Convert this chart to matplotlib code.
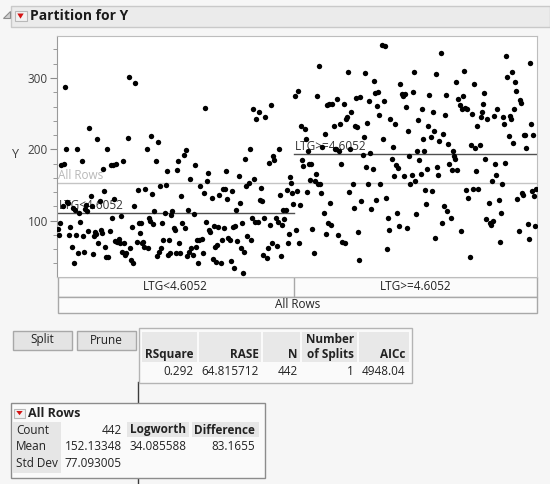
import numpy as np
import matplotlib.pyplot as plt
from matplotlib.patches import Rectangle, Polygon
from matplotlib.ticker import MultipleLocator, FixedLocator

plt.rcParams["font.family"] = ["Open Sans", "DejaVu Sans"]

# Y values, left to right within each leaf
left_leaf = [
    88, 80, 97, 178, 120, 180, 288, 201, 126, 124, 80, 91, 63, 117, 41, 115, 80, 200, 54, 111,
    98, 183, 78, 56, 116, 122, 113, 85, 230, 135, 120, 53, 78, 84, 81, 214, 68, 128, 87, 82,
    173, 141, 63, 49, 200, 49, 86, 178, 104, 178, 130, 72, 179, 70, 74, 68, 106, 56, 183, 68,
    52, 55, 216, 302, 61, 45, 91, 40, 120, 293, 70, 143, 97, 83, 97, 68, 70, 63, 145, 200,
    61, 103, 99, 219, 137, 95, 113, 184, 50, 210, 56, 148, 61, 96, 73, 110, 150, 169, 52, 73,
    54, 108, 113, 89, 87, 54, 171, 183, 68,
    55, 134, 96, 192, 89, 199, 50, 115, 56, 159, 61, 52, 109, 178, 63, 73, 41, 73, 148, 74,
    55, 139, 258, 98, 155, 167, 87, 84, 132, 46, 92, 63, 42, 66, 91, 136, 41, 73, 144, 89,
    145, 169, 130, 75, 73, 44, 141, 91, 33, 92, 115, 72, 162, 125, 61, 97, 27, 56, 187, 149,
    78, 153, 200, 73, 103, 256, 159, 98, 243, 98, 253, 129, 146, 128, 52, 103, 245, 47, 61, 181,
    94, 262, 68, 191, 185, 103, 64, 98, 200, 136, 50, 94, 115, 102, 115, 143, 68, 81, 161, 153,
    138, 123,
]
right_leaf = [
    275, 87, 141, 282, 69, 122, 232, 185, 176, 228, 215, 140, 197, 179, 157, 179, 88, 54, 155, 165,
    275, 152, 317, 152, 139, 203, 111, 221, 81, 262, 96, 264, 124, 94, 264, 233, 201, 200, 271, 80,
    197, 235, 180, 70, 264, 68, 242, 245, 309, 140, 200, 253, 152, 117, 233, 272, 231, 84, 45, 274,
    127, 192, 217, 307, 175, 237, 151, 268, 195, 116, 172, 296, 279, 129, 261, 281, 248, 151, 346, 214,
    268, 345, 132, 60, 103, 87, 243, 186, 203, 163, 235, 178, 110, 174, 92, 292, 278, 275, 162, 278,
    259, 90, 225, 191, 151, 164, 281, 309, 156, 109, 198, 241,
    185, 166, 257, 214, 197, 143, 123, 173, 233, 276, 217, 142, 253, 225, 75, 306, 175, 164, 212, 335,
    96, 221, 120, 248, 276, 113, 208, 179, 103, 171, 198, 190, 187, 294, 171, 270, 262, 86, 257, 275,
    310, 258, 143, 257, 132, 49, 206, 249, 145, 292, 202, 169, 232, 145, 206, 245, 253, 264, 279, 186,
    102, 242, 125, 96, 94, 156, 100, 246, 180, 164, 257, 129, 70, 110, 151, 245, 235, 181, 331, 302,
    219, 247, 242, 309, 209, 257, 295, 282, 130, 86, 269, 265, 138, 136, 220, 220, 202, 95, 74, 321,
    236, 141, 220, 134, 92, 144,
]
leaf_names = ["LTG<4.6052", "LTG>=4.6052"]
leaf_means = [110.0, 193.2]
all_mean = 152.13348

summary_cols = ["RSquare", "RASE", "N", "Number\nof Splits", "AICc"]
summary_vals = ["0.292", "64.815712", "442", "1", "4948.04"]
node_labels = ["Count", "Mean", "Std Dev"]
node_vals = ["442", "152.13348", "77.093005"]
split_cols = ["Logworth", "Difference"]
split_vals = ["34.085588", "83.1655"]

W, H = 550, 484
BG = "#f6f6f6"
TXT = "#222222"


def box(x0, y0, x1, y1):
    return [x0 / W, 1 - y1 / H, (x1 - x0) / W, (y1 - y0) / H]


fig = plt.figure(figsize=(W / 100, H / 100), dpi=100, facecolor=BG)

# overlay axes in pixel coordinates for the report furniture
ui = fig.add_axes([0, 0, 1, 1], zorder=0)
ui.set_xlim(0, W)
ui.set_ylim(H, 0)
ui.axis("off")


def rect(x0, y0, x1, y1, fc, ec="none", lw=1.0, z=1):
    ui.add_patch(Rectangle((x0, y0), x1 - x0, y1 - y0, fc=fc, ec=ec, lw=lw, zorder=z))


def red_button(x0, y0, w=11, h=9):
    rect(x0, y0, x0 + w, y0 + h, "#f2f2f2", "#b8b8b8", 0.8, 3)
    cx = x0 + w / 2
    ui.add_patch(Polygon([(cx - 3.2, y0 + 2.5), (cx + 3.2, y0 + 2.5), (cx, y0 + h - 2.3)],
                         closed=True, fc="#d41414", ec="none", zorder=4))


# header
rect(10.5, 5.5, 549.5, 26.5, "#ebebeb", "#c9c9c9", 1.0)
ui.add_patch(Polygon([(9.5, 11), (9.5, 18), (2.5, 18)], closed=True, fc="#d0d0d0",
                     ec="#8c8c8c", lw=0.8, zorder=2))
red_button(14.5, 11, 12, 10)
ui.text(30.5, 16.5, "Partition for Y", fontsize=10, fontweight="bold", color="#1a1a1a",
        va="center", ha="left")

# main partition plot
ax = fig.add_axes(box(57.5, 36, 537, 276.7), zorder=2)
ax.set_facecolor("white")
split = (294 - 57.5) / (537 - 57.5)
n_l, n_r = len(left_leaf), len(right_leaf)
x_l = (np.arange(n_l) + 0.5) / n_l * split
x_r = split + (np.arange(n_r) + 0.5) / n_r * (1 - split)

ax.axhline(all_mean, color="#c4c4c4", lw=1.0, zorder=1)
ax.plot([0, split], [leaf_means[0]] * 2, color="#505050", lw=1.0, zorder=1)
ax.plot([split, 1], [leaf_means[1]] * 2, color="#505050", lw=1.0, zorder=1)
ax.text(0.002, all_mean + 1.5, "All Rows", color="#b8b8b8", fontsize=8.5, va="bottom", zorder=1)
ax.text(0.002, leaf_means[0] + 1.5, leaf_names[0], color="#333333", fontsize=8.5, va="bottom", zorder=1)
ax.text(split + 0.002, leaf_means[1] + 1.5, leaf_names[1], color="#333333", fontsize=8.5,
        va="bottom", zorder=1)

ax.scatter(x_l, left_leaf, s=15, c="black", lw=0, zorder=3)
ax.scatter(x_r, right_leaf, s=15, c="black", lw=0, zorder=3)

ax.set_xlim(0, 1)
ax.set_ylim(21.3, 358.9)
ax.set_xticks([])
ax.yaxis.set_major_locator(FixedLocator([100, 200, 300]))
ax.yaxis.set_minor_locator(MultipleLocator(20))
ax.tick_params(axis="y", which="major", length=5, color="#8a8a8a", labelsize=8.5,
               labelcolor="#404040", pad=2)
ax.tick_params(axis="y", which="minor", length=3, color="#8a8a8a")
for s in ax.spines.values():
    s.set_color("#bdbdbd")
ax.spines["left"].set_color("#9a9a9a")
fig.text(15 / W, 1 - 155 / H, "Y", fontsize=9, color="#404040", ha="center", va="center")

# leaf label rows below the plot
rect(57.5, 276.7, 537, 296.7, "#fbfbfb", "#a8a8a8", 1.0)
rect(57.5, 296.7, 537, 313, "#fbfbfb", "#a8a8a8", 1.0)
ui.plot([294, 294], [276.7, 296.7], color="#a8a8a8", lw=1.0, zorder=2)
ui.text((57.5 + 294) / 2, 286.5, leaf_names[0], fontsize=8.5, color=TXT, ha="center", va="center", zorder=3)
ui.text((294 + 537) / 2, 286.5, leaf_names[1], fontsize=8.5, color=TXT, ha="center", va="center", zorder=3)
ui.text((57.5 + 537) / 2, 304.5, "All Rows", fontsize=8.5, color=TXT, ha="center", va="center", zorder=3)

# buttons
for (bx0, bx1), label in zip([(12.5, 71.5), (76.5, 135.5)], ["Split", "Prune"]):
    rect(bx0, 330.5, bx1, 349.5, "#e4e4e4", "#a8a8a8", 1.0)
    ui.text((bx0 + bx1) / 2, 340, label, fontsize=8.5, color=TXT, ha="center", va="center", zorder=3)

# connector line
ui.plot([137.5, 137.5], [382, 484], color="#3c3c3c", lw=1.0, zorder=1)

# summary table
rect(138.5, 327.5, 412, 382.5, "#fafafa", "#b4b4b4", 1.0, 2)
col_edges = [(141.7, 196.7), (199, 261.3), (263.3, 300), (302.3, 356.7), (359, 409)]
col_right = [194, 259, 297.5, 354, 405]
for (c0, c1), xr, name, val in zip(col_edges, col_right, summary_cols, summary_vals):
    rect(c0, 331.7, c1, 361.7, "#e8e8e8", z=2)
    if "\n" in name:
        top, bot = name.split("\n")
        ui.text(xr, 339.5, top, fontsize=8.5, fontweight="bold", color=TXT, ha="right", va="center", zorder=3)
        ui.text(xr, 354.3, bot, fontsize=8.5, fontweight="bold", color=TXT, ha="right", va="center", zorder=3)
    else:
        ui.text(xr, 354.3, name, fontsize=8.5, fontweight="bold", color=TXT, ha="right", va="center", zorder=3)
    ui.text(xr, 371.7, val, fontsize=8.5, color=TXT, ha="right", va="center", zorder=3)

# All Rows node box
rect(10.5, 402.7, 265, 478.3, "#fafafa", "#8c8c8c", 1.0, 2)
red_button(14, 408.5)
ui.text(28, 413.5, "All Rows", fontsize=9, fontweight="bold", color=TXT, ha="left", va="center", zorder=3)
rect(13.3, 421.7, 60.5, 472.7, "#e6e6e6", z=2)
row_y = [430, 446.7, 463.3]
for y, lab, val in zip(row_y, node_labels, node_vals):
    ui.text(16, y, lab, fontsize=8.5, color=TXT, ha="left", va="center", zorder=3)
    ui.text(121.7, y, val, fontsize=8.5, color=TXT, ha="right", va="center", zorder=3)
for (c0, c1), xr, name, val in zip([(126.7, 189.3), (191.7, 259.3)], [186, 255], split_cols, split_vals):
    rect(c0, 422.3, c1, 437.3, "#e6e6e6", z=2)
    ui.text(xr, 430, name, fontsize=8.5, fontweight="bold", color=TXT, ha="right", va="center", zorder=3)
    ui.text(xr, 446.7, val, fontsize=8.5, color=TXT, ha="right", va="center", zorder=3)

fig.savefig("out.png", dpi=100, facecolor=BG)
